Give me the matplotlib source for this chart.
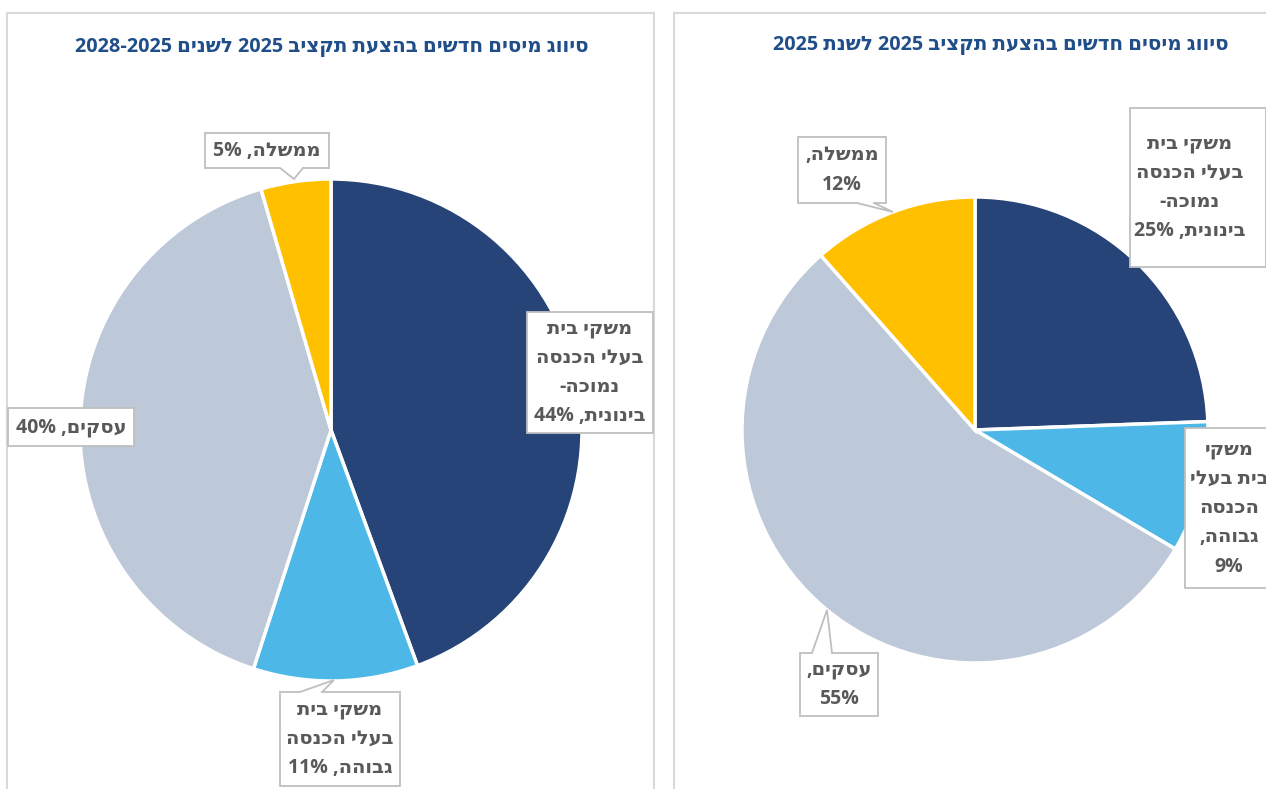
import matplotlib.pyplot as plt
from matplotlib.patches import Rectangle, Polygon
import numpy as np

plt.rcParams['font.family'] = ['Open Sans', 'DejaVu Sans']

# data
shares_all = [44.4, 10.6, 40.5, 4.5]      # 2025-2028
shares_2025 = [24.4, 9.1, 54.9, 11.5]     # 2025 only
colors = ['#264478', '#4DB8E8', '#BDC8D9', '#FFC000']

title_left = 'סיווג מיסים חדשים בהצעת תקציב 2025 לשנים 2028-2025'
title_right = 'סיווג מיסים חדשים בהצעת תקציב 2025 לשנת 2025'

labels_left = [['משקי בית', 'בעלי הכנסה', 'נמוכה-', 'בינונית, 44%'],
               ['משקי בית', 'בעלי הכנסה', 'גבוהה, 11%'],
               ['עסקים, 40%'],
               ['ממשלה, 5%']]
labels_right = [['משקי בית', 'בעלי הכנסה', 'נמוכה-', 'בינונית, 25%'],
                ['משקי', 'בית בעלי', 'הכנסה', 'גבוהה,', '9%'],
                ['עסקים,', '55%'],
                ['ממשלה,', '12%']]


def vis(s):
    # crude bidi: flip hebrew words, then word order
    out = []
    for t in s.split(' '):
        if any('\u0590' <= c <= '\u05ff' for c in t):
            out.append(t[::-1])
        else:
            out.append(t)
    return ' '.join(out[::-1])


W, H = 1266, 789
fig = plt.figure(figsize=(W / 100, H / 100), dpi=100)
ax = fig.add_axes([0, 0, 1, 1])

BORDER = '#D9D9D9'
BOXEDGE = '#BFBFBF'
TXT = '#595959'


def Y(y):
    return H - y


# panel frames
ax.add_patch(Rectangle((7, Y(800)), 647, 787, fill=False, ec=BORDER, lw=1.5))
ax.add_patch(Rectangle((674, Y(800)), 620, 787, fill=False, ec=BORDER, lw=1.5))

# pies
ax.pie(shares_all, colors=colors, startangle=90, counterclock=False,
       center=(331, Y(430)), radius=251,
       wedgeprops=dict(edgecolor='white', linewidth=2.5))
ax.pie(shares_2025, colors=colors, startangle=90, counterclock=False,
       center=(975, Y(430)), radius=233,
       wedgeprops=dict(edgecolor='white', linewidth=2.5))

ax.set_xlim(0, W)
ax.set_ylim(0, H)
ax.set_aspect('auto')
ax.axis('off')

ax.text(332, Y(47), vis(title_left), ha='center', va='center', fontsize=14.3,
        fontweight='bold', color='#1F4E89')
ax.text(1001, Y(45), vis(title_right), ha='center', va='center', fontsize=14.3,
        fontweight='bold', color='#1F4E89')


def callout(x0, y0, x1, y1, lines, tx=None, ptr=None):
    # box given in image pixels (top-left / bottom-right)
    ax.add_patch(Rectangle((x0, Y(y1)), x1 - x0, y1 - y0, fc='white',
                           ec=BOXEDGE, lw=1.3, zorder=5))
    if ptr is not None:
        (bx1, by1), (bx2, by2), (px, py), (ix, iy) = ptr
        ax.add_patch(Polygon([(bx1 + ix, Y(by1 + iy)), (bx1, Y(by1)), (px, Y(py)),
                              (bx2, Y(by2)), (bx2 + ix, Y(by2 + iy))],
                             closed=True, fc='white', ec='none', zorder=6))
        ax.plot([bx1, px, bx2], [Y(by1), Y(py), Y(by2)], color=BOXEDGE,
                lw=1.3, zorder=7, solid_joinstyle='miter')
    cx = tx if tx is not None else (x0 + x1) / 2
    txt = '\n'.join(vis(l) for l in lines)
    ax.text(cx, Y((y0 + y1) / 2), txt, ha='center', va='center', fontsize=14,
            fontweight='bold', color=TXT, linespacing=1.62, zorder=8)


# left pie labels
callout(527, 312, 653, 433, labels_left[0])
callout(280, 692, 400, 786, labels_left[1],
        ptr=((300, 692), (322, 692), (334, 680), (0, 3)))
callout(8, 408, 134, 446, labels_left[2])
callout(205, 133, 329, 168, labels_left[3],
        ptr=((280, 168), (303, 168), (294, 179), (0, -3)))

# right pie labels
callout(1130, 108, 1266, 267, labels_right[0], tx=1190)
callout(1185, 428, 1300, 588, labels_right[1], tx=1229)
callout(800, 653, 878, 716, labels_right[2],
        ptr=((812, 653), (832, 653), (827, 610), (0, 3)))
callout(798, 137, 886, 203, labels_right[3],
        ptr=((857, 203), (874, 203), (893, 212), (0, -3)))

fig.savefig('out.png', dpi=100)
